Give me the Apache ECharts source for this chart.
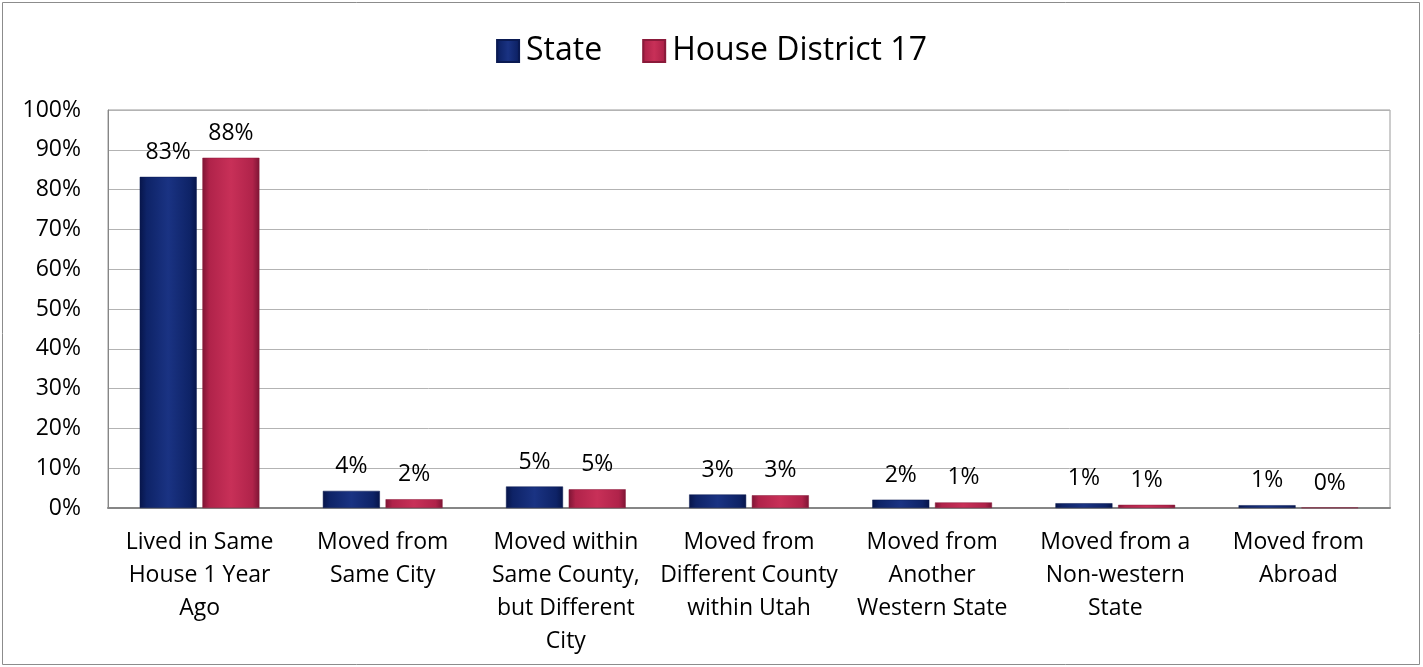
<!DOCTYPE html>
<html>
<head>
<meta charset="utf-8">
<script src="https://cdn.jsdelivr.net/npm/echarts@6/dist/echarts.min.js"></script>
<style>
  html, body { margin: 0; padding: 0; background: #ffffff; }
  #chart { width: 1423px; height: 667px; }
</style>
</head>
<body>
<div id="chart"></div>
<script>
// Residence one year ago: share of population by category
const categories = [
  'Lived in Same\nHouse 1 Year\nAgo',
  'Moved from\nSame City',
  'Moved within\nSame County,\nbut Different\nCity',
  'Moved from\nDifferent County\nwithin Utah',
  'Moved from\nAnother\nWestern State',
  'Moved from a\nNon-western\nState',
  'Moved from\nAbroad'
];
const seriesNames = ['State', 'House District 17'];
const stateValues = [83.2, 4.3, 5.4, 3.4, 2.1, 1.2, 0.7];
const districtValues = [88.0, 2.2, 4.7, 3.2, 1.4, 0.8, 0.1];
const yTicks = { min: 0, max: 100, interval: 10 };

const FONT = '"Open Sans", Lato, sans-serif';

// horizontal shading that gives each bar a rounded, bevelled look
function bevel(edge, mid, light) {
  return {
    type: 'linear', x: 0, y: 0, x2: 1, y2: 0,
    colorStops: [
      { offset: 0, color: edge },
      { offset: 0.12, color: mid },
      { offset: 0.5, color: light },
      { offset: 0.88, color: mid },
      { offset: 1, color: edge }
    ]
  };
}

const chart = echarts.init(document.getElementById('chart'), null, { renderer: 'canvas' });

const labelOpt = {
  show: true,
  position: 'top',
  distance: 13,
  color: '#000',
  fontFamily: FONT,
  fontSize: 23,
  formatter: p => Math.round(p.value) + '%'
};

chart.setOption({
  animation: false,
  backgroundColor: '#ffffff',
  textStyle: { fontFamily: FONT },
  graphic: [{
    type: 'rect',
    shape: { x: 2.5, y: 2.5, width: 1417, height: 662 },
    style: { fill: null, stroke: '#8c8c8c', lineWidth: 1 },
    silent: true
  }],
  legend: {
    data: seriesNames,
    top: 30,
    left: 'center',
    itemWidth: 22,
    itemHeight: 22,
    itemGap: 40,
    icon: 'rect',
    textStyle: { fontFamily: FONT, fontSize: 32, color: '#000', padding: [0, 0, 0, 2] }
  },
  grid: {
    left: 108, right: 33, top: 110, bottom: 159,
    show: true, borderColor: '#9a9a9a', borderWidth: 1, backgroundColor: 'transparent'
  },
  xAxis: {
    type: 'category',
    data: categories,
    axisLine: { lineStyle: { color: '#868686', width: 2 } },
    axisTick: { show: false },
    axisLabel: {
      interval: 0,
      margin: 18,
      color: '#000',
      fontFamily: FONT,
      fontSize: 23,
      lineHeight: 33
    }
  },
  yAxis: {
    type: 'value',
    min: yTicks.min, max: yTicks.max, interval: yTicks.interval,
    axisLine: { show: true, lineStyle: { color: '#868686', width: 1 } },
    axisTick: { show: false },
    splitLine: { lineStyle: { color: '#b3b3b3', width: 1 } },
    axisLabel: {
      formatter: '{value}%',
      margin: 27,
      color: '#000',
      fontFamily: FONT,
      fontSize: 23
    }
  },
  series: [
    {
      name: seriesNames[0],
      type: 'bar',
      data: stateValues,
      barWidth: 57,
      barGap: '10%',
      itemStyle: {
        color: bevel('#07154a', '#0e2367', '#1a3383'),
        borderColor: '#0a1a52', borderWidth: 0.5
      },
      label: labelOpt
    },
    {
      name: seriesNames[1],
      type: 'bar',
      data: districtValues,
      barWidth: 57,
      itemStyle: {
        color: bevel('#7e1535', '#b0234a', '#c83058'),
        borderColor: '#8a1a3a', borderWidth: 0.5
      },
      label: labelOpt
    }
  ]
});
</script>
</body>
</html>
